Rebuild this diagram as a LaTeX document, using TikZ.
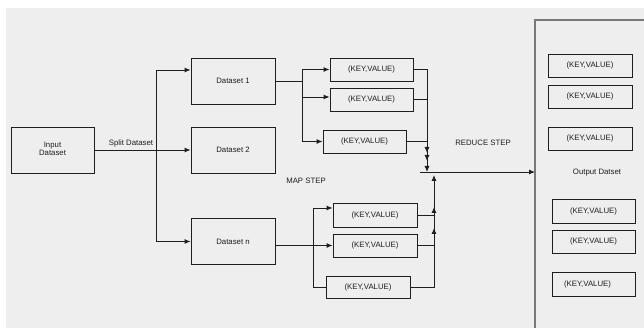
\documentclass[tikz,border=0pt]{standalone}
\usepackage{fontspec}
\setmainfont{Liberation Sans}
\usepackage{tikz}
\usetikzlibrary{arrows.meta}
\definecolor{bgcol}{RGB}{238,238,238}
\definecolor{linecol}{RGB}{30,30,30}
\definecolor{outcol}{RGB}{120,120,120}

\begin{document}
\begin{tikzpicture}[x=1pt, y=-1pt,
  every node/.style={font=\fontsize{7.8}{9}\selectfont, text=linecol},
  box/.style={draw=linecol, line width=0.9pt, minimum width=84pt, minimum height=46pt, inner sep=0pt},
  kv/.style={draw=linecol, line width=0.9pt, minimum width=83pt, minimum height=23pt, inner sep=0pt},
  conn/.style={draw=linecol, line width=0.9pt},
  arr/.style={conn, -{Latex[length=6pt,width=5pt]}}]
  \useasboundingbox (0,0) rectangle (644,328);
  \fill[bgcol] (6,8) rectangle (644,328);
  \draw[outcol, line width=1.2pt] (535,340) -- (535,20) -- (660,20);
  \node[box, minimum width=83pt] (input) at (52.5,150) {\begin{tabular}{@{}c@{}}Input\\[-1pt]Dataset\end{tabular}};
  \node[box] (ds1) at (233,81) {Dataset 1};
  \node[box] (ds2) at (233,150) {Dataset 2};
  \node[box] (dsn) at (233,241.5) {Dataset n};
  \node[kv] (kv1) at (371.5,69.5) {(KEY,VALUE)};
  \node[kv] (kv2) at (371.5,99.5) {(KEY,VALUE)};
  \node[kv] (kv3) at (364.5,141.5) {(KEY,VALUE)};
  \node[kv, minimum width=84pt, minimum height=24pt] (kv4) at (375,215) {(KEY,VALUE)};
  \node[kv, minimum width=84pt] (kv5) at (375,245.5) {(KEY,VALUE)};
  \node[kv, minimum width=84pt, minimum height=22pt] (kv6) at (368,287) {(KEY,VALUE)};
  \node[kv, minimum width=84pt] (o1) at (590,65.5) {(KEY,VALUE)};
  \node[kv, minimum width=84pt] (o2) at (590,96.5) {(KEY,VALUE)};
  \node[kv, minimum width=84pt] (o3) at (590,138.5) {(KEY,VALUE)};
  \node[kv, minimum height=24pt] (o4) at (593.5,211) {(KEY,VALUE)};
  \node[kv] (o5) at (593.5,241.5) {(KEY,VALUE)};
  \node[kv, minimum height=24pt] (o6) at (593.5,284) {(KEY,VALUE)\hspace*{12pt}};
  \node (split) at (131,143) {Split Dataset};
  \node (map) at (306,181) {MAP STEP};
  \node (reduce) at (483,143) {REDUCE STEP};
  \node (outlbl) at (597,173) {Output Datset};
  \coordinate (sp) at (156,150);
  \coordinate (b1) at (302,81);
  \coordinate (b2) at (313,245.5);
  \coordinate (rj) at (427,172);
  \coordinate (lj) at (434,172);
  \coordinate (hs) at (420,172);
  \coordinate (he) at (535,172);
  \draw[arr] (input.east) -- (ds2.west);
  \draw[arr] (sp) |- ([yshift=11pt]ds1.west);
  \draw[arr] (sp) |- (dsn.west);
  \draw[conn] (ds1.east) -- (b1);
  \draw[arr] (b1) |- (kv1.west);
  \draw[arr] (b1) |- ([yshift=2.5pt]kv2.west);
  \draw[arr] (b1) |- (kv3.west);
  \draw[arr] (kv1.east) -| ([yshift=19pt]rj);
  \draw[arr] (kv2.east) -| ([yshift=11pt]rj);
  \draw[arr] (kv3.east) -| (rj);
  \draw[arr] (hs) -- (he);
  \draw[arr] (dsn.east |- kv5.west) -- (kv5.west);
  \draw[arr] (b2) |- ([yshift=7pt]kv4.west);
  \draw[conn] (b2) |- (kv6.west);
  \draw[arr] (kv4.east) -| ([yshift=-35pt]lj);
  \draw[arr] (kv5.east) -| ([yshift=-56pt]lj);
  \draw[arr] (kv6.east) -| ([yshift=-3pt]lj);
\end{tikzpicture}
\end{document}
